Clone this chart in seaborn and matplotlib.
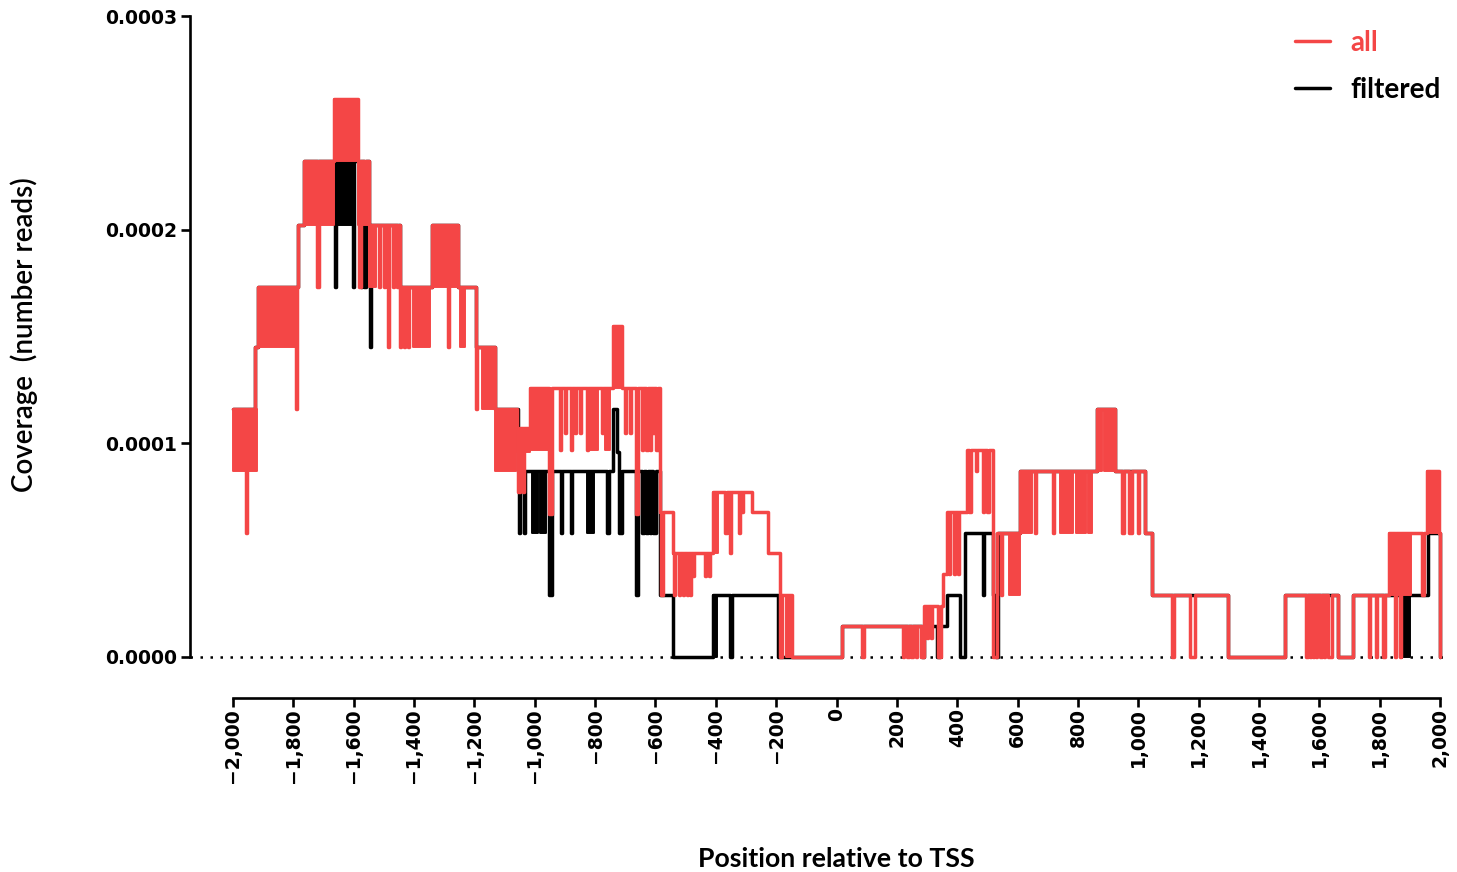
import matplotlib
matplotlib.use("Agg")
import matplotlib.pyplot as plt
import seaborn as sns
import pandas as pd
from matplotlib.ticker import FuncFormatter

# ---------------- data ----------------
# step breakpoints (position relative to TSS, coverage), drawn as steps-post
all_steps = [
    (-2000, 11.6e-5), (-1958, 5.8e-5), (-1954, 11.6e-5), (-1927, 14.5e-5), (-1917, 17.3e-5),
    (-1792, 11.6e-5), (-1788, 17.3e-5), (-1785, 20.2e-5), (-1765, 23.2e-5),
    (-1720, 17.3e-5), (-1716, 23.2e-5), (-1665, 26.1e-5), (-1586, 23.2e-5),
    (-1581, 17.3e-5), (-1577, 23.2e-5), (-1549, 20.2e-5),
    (-1516, 17.3e-5), (-1512, 20.2e-5), (-1500, 17.3e-5), (-1496, 20.2e-5),
    (-1486, 14.5e-5), (-1482, 20.2e-5), (-1470, 17.3e-5), (-1466, 20.2e-5),
    (-1455, 17.3e-5), (-1451, 20.2e-5), (-1447, 14.5e-5), (-1443, 17.3e-5),
    (-1433, 14.5e-5), (-1429, 17.3e-5), (-1420, 14.5e-5), (-1416, 17.3e-5),
    (-1340, 20.2e-5), (-1288, 14.5e-5), (-1284, 20.2e-5), (-1254, 17.3e-5),
    (-1194, 11.6e-5), (-1190, 14.5e-5), (-1131, 11.6e-5), (-1059, 10.7e-5),
    (-1054, 7.7e-5), (-1050, 10.7e-5), (-1038, 7.7e-5), (-1034, 10.7e-5),
    (-1016, 12.6e-5), (-952, 6.7e-5), (-944, 12.6e-5),
    (-917, 9.7e-5), (-913, 12.6e-5), (-900, 10.5e-5), (-896, 12.6e-5),
    (-880, 9.7e-5), (-876, 12.6e-5), (-867, 10.5e-5), (-863, 12.6e-5),
    (-850, 10.5e-5), (-846, 12.6e-5), (-827, 9.7e-5), (-823, 12.6e-5),
    (-777, 10.5e-5), (-773, 12.6e-5), (-741, 15.5e-5), (-711, 12.6e-5),
    (-700, 10.5e-5), (-696, 12.6e-5), (-684, 10.5e-5), (-680, 12.6e-5),
    (-663, 6.7e-5), (-659, 12.6e-5), (-645, 9.7e-5), (-641, 12.6e-5),
    (-630, 9.7e-5), (-626, 12.6e-5), (-618, 9.7e-5), (-614, 12.6e-5),
    (-608, 10.5e-5), (-604, 12.6e-5), (-597, 9.7e-5), (-593, 12.6e-5),
    (-585, 6.8e-5), (-580, 2.9e-5), (-576, 6.8e-5), (-542, 4.85e-5),
    (-540, 2.9e-5), (-534, 4.85e-5), (-521, 2.9e-5), (-517, 4.85e-5),
    (-510, 2.9e-5), (-506, 4.85e-5), (-497, 2.9e-5), (-493, 4.85e-5),
    (-486, 2.9e-5), (-482, 4.85e-5), (-476, 3.8e-5), (-472, 4.85e-5),
    (-436, 3.8e-5), (-432, 4.85e-5), (-424, 3.8e-5), (-420, 4.85e-5),
    (-409, 7.7e-5), (-370, 5.8e-5), (-364, 7.7e-5), (-353, 4.85e-5), (-349, 7.7e-5),
    (-323, 5.8e-5), (-319, 7.7e-5), (-313, 6.8e-5), (-309, 7.7e-5),
    (-280, 6.8e-5), (-227, 4.85e-5), (-186, 0.0), (-180, 2.9e-5), (-148, 0.0),
    (18, 1.45e-5), (86, 0.0), (90, 1.45e-5), (219, 0.0), (223, 1.45e-5),
    (235, 0.0), (239, 1.45e-5), (248, 0.0), (254, 1.45e-5), (262, 0.0), (268, 1.45e-5),
    (280, 0.0), (290, 2.4e-5), (300, 0.9e-5), (304, 2.4e-5), (313, 0.9e-5), (317, 2.4e-5),
    (336, 0.0), (346, 2.4e-5), (353, 3.9e-5), (366, 6.8e-5),
    (372, 3.9e-5), (376, 6.8e-5), (390, 3.9e-5), (394, 6.8e-5), (403, 3.9e-5), (407, 6.8e-5),
    (432, 9.7e-5), (440, 6.8e-5), (444, 9.7e-5), (462, 8.7e-5), (466, 9.7e-5),
    (484, 6.8e-5), (488, 9.7e-5), (500, 6.8e-5), (504, 9.7e-5),
    (520, 0.0), (532, 5.8e-5), (545, 2.9e-5), (549, 5.8e-5), (608, 8.7e-5),
    (656, 5.8e-5), (660, 8.7e-5), (716, 5.8e-5), (720, 8.7e-5),
    (863, 11.6e-5), (923, 8.7e-5), (947, 5.8e-5), (951, 8.7e-5),
    (970, 5.8e-5), (978, 8.7e-5), (998, 5.8e-5), (1002, 8.7e-5),
    (1022, 5.8e-5), (1046, 2.9e-5), (1113, 0.0), (1117, 2.9e-5), (1172, 0.0), (1188, 2.9e-5),
    (1297, 0.0), (1486, 2.9e-5),
    (1557, 0.0), (1561, 2.9e-5), (1569, 0.0), (1573, 2.9e-5), (1579, 0.0), (1583, 2.9e-5),
    (1589, 0.0), (1593, 2.9e-5), (1603, 0.0), (1607, 2.9e-5), (1615, 0.0), (1619, 2.9e-5),
    (1630, 0.0), (1640, 2.9e-5), (1662, 0.0), (1712, 2.9e-5),
    (1765, 0.0), (1769, 2.9e-5), (1787, 0.0), (1791, 2.9e-5), (1812, 0.0), (1816, 2.9e-5),
    (1830, 5.8e-5), (1850, 0.0), (1854, 5.8e-5), (1866, 0.0), (1870, 5.8e-5),
    (1940, 2.9e-5), (1946, 5.8e-5), (1958, 8.7e-5), (1995, 5.8e-5), (2000, 0.0),
]

# ranges where the "all" coverage flickers rapidly between two levels (start, end, low, high)
all_bands = [
    (-2000, -1920, 8.7e-5, 11.6e-5), (-1917, -1790, 14.5e-5, 17.3e-5),
    (-1765, -1665, 20.2e-5, 23.2e-5), (-1665, -1586, 23.2e-5, 26.1e-5),
    (-1586, -1549, 20.2e-5, 23.2e-5), (-1549, -1526, 17.3e-5, 20.2e-5),
    (-1403, -1347, 14.5e-5, 17.3e-5), (-1340, -1254, 17.3e-5, 20.2e-5),
    (-1247, -1230, 14.5e-5, 17.3e-5), (-1175, -1135, 11.6e-5, 14.5e-5),
    (-1131, -1062, 8.7e-5, 11.6e-5), (-1059, -1016, 9.6e-5, 10.7e-5),
    (-1016, -945, 9.7e-5, 12.6e-5), (-817, -790, 9.7e-5, 12.6e-5),
    (-767, -750, 9.7e-5, 12.6e-5), (-741, -711, 12.6e-5, 15.5e-5),
    (-409, -392, 4.85e-5, 7.7e-5), (-166, -150, 0.0, 2.9e-5),
    (572, 608, 2.9e-5, 5.8e-5), (612, 648, 5.8e-5, 8.7e-5),
    (742, 785, 5.8e-5, 8.7e-5), (792, 825, 5.8e-5, 8.7e-5), (832, 848, 5.8e-5, 8.7e-5),
    (866, 878, 8.7e-5, 11.6e-5), (886, 918, 8.7e-5, 11.6e-5),
    (1830, 1902, 2.9e-5, 5.8e-5), (1958, 1993, 5.8e-5, 8.7e-5),
]

filtered_steps = [
    (-2000, 11.6e-5), (-1927, 14.5e-5), (-1917, 17.3e-5), (-1785, 20.2e-5), (-1765, 23.2e-5),
    (-1663, 17.3e-5), (-1659, 23.2e-5), (-1603, 17.3e-5), (-1599, 23.2e-5),
    (-1577, 17.3e-5), (-1573, 23.2e-5), (-1564, 17.3e-5), (-1560, 23.2e-5),
    (-1549, 20.2e-5), (-1546, 14.5e-5), (-1541, 20.2e-5), (-1447, 17.3e-5),
    (-1340, 20.2e-5), (-1254, 17.3e-5), (-1194, 14.5e-5), (-1131, 11.6e-5),
    (-1054, 8.7e-5), (-1052, 5.8e-5), (-1048, 8.7e-5), (-1036, 5.8e-5), (-1032, 8.7e-5),
    (-952, 2.9e-5), (-944, 8.7e-5), (-913, 5.8e-5), (-909, 8.7e-5),
    (-880, 5.8e-5), (-876, 8.7e-5), (-761, 5.8e-5), (-755, 8.7e-5),
    (-741, 11.6e-5), (-728, 9.6e-5), (-720, 5.8e-5), (-711, 8.7e-5),
    (-663, 2.9e-5), (-659, 8.7e-5), (-645, 5.8e-5), (-639, 8.7e-5),
    (-630, 5.8e-5), (-626, 8.7e-5), (-618, 5.8e-5), (-614, 8.7e-5),
    (-608, 5.8e-5), (-598, 8.7e-5), (-585, 2.9e-5), (-542, 0.0), (-409, 2.9e-5),
    (-353, 0.0), (-347, 2.9e-5), (-194, 0.0), (18, 1.45e-5),
    (283, 0.0), (291, 1.45e-5), (333, 0.0), (343, 1.45e-5), (366, 2.9e-5),
    (409, 0.0), (426, 5.8e-5), (484, 2.9e-5), (490, 5.8e-5), (517, 2.9e-5),
    (527, 0.0), (535, 5.8e-5), (608, 8.7e-5), (863, 11.6e-5), (923, 8.7e-5),
    (1022, 5.8e-5), (1046, 2.9e-5), (1297, 0.0), (1486, 2.9e-5), (1662, 0.0),
    (1712, 2.9e-5), (1960, 5.8e-5), (2000, 0.0),
]

filtered_bands = [
    (-1652, -1605, 20.2e-5, 23.2e-5), (-1010, -990, 5.8e-5, 8.7e-5),
    (-983, -963, 5.8e-5, 8.7e-5), (-827, -802, 5.8e-5, 8.7e-5),
    (-409, -395, 0.0, 2.9e-5), (1866, 1900, 0.0, 2.9e-5),
]

x_ticks = list(range(-2000, 2001, 200))
y_ticks = [0.0, 0.0001, 0.0002, 0.0003]
series_names = ["all", "filtered"]

# ---------------- styling ----------------
sns.set_style("ticks")
plt.rcParams['font.family'] = ['DejaVu Sans']
plt.rcParams['text.color'] = 'black'
plt.rcParams['axes.labelcolor'] = 'black'
RED = "#F44646"
LW = 2.5

fig = plt.figure(figsize=(14.57, 8.72), dpi=100)
ax = fig.add_axes([190 / 1457, 174 / 872, 1255 / 1457, 682 / 872])

df_all = pd.DataFrame(all_steps, columns=["pos", "cov"])
df_filt = pd.DataFrame(filtered_steps, columns=["pos", "cov"])

ax.axhline(0, color="black", lw=1.8, ls=(0, (1, 3)), zorder=1)

sns.lineplot(data=df_filt, x="pos", y="cov", ax=ax, color="black", lw=LW,
             drawstyle="steps-post", estimator=None, sort=False,
             label=series_names[1], zorder=2)
for x0, x1, lo, hi in filtered_bands:
    ax.fill_between([x0, x1], [lo, lo], [hi, hi], color="black", lw=1.4, zorder=2.1)

sns.lineplot(data=df_all, x="pos", y="cov", ax=ax, color=RED, lw=LW,
             drawstyle="steps-post", estimator=None, sort=False,
             label=series_names[0], zorder=3)
for x0, x1, lo, hi in all_bands:
    ax.fill_between([x0, x1], [lo, lo], [hi, hi], color=RED, lw=1.4, zorder=3.1)

ax.set_xlim(-2142, 2016)
ax.set_ylim(-1.92e-5, 3.0e-4)

for s in ["top", "right"]:
    ax.spines[s].set_visible(False)
for s in ["left", "bottom"]:
    ax.spines[s].set_linewidth(1.9)
    ax.spines[s].set_color("black")
ax.spines["left"].set_bounds(0, 3e-4)
ax.spines["bottom"].set_bounds(-2000, 2000)

ax.set_xticks(x_ticks)
ax.set_yticks(y_ticks)
ax.xaxis.set_major_formatter(FuncFormatter(lambda v, p: f"{v:,.0f}".replace("-", "\u2212")))
ax.yaxis.set_major_formatter(FuncFormatter(lambda v, p: f"{v:.4f}"))
ax.tick_params(axis="both", direction="out", length=6.5, width=1.9, color="black",
               labelsize=13.5, labelcolor="black")
ax.tick_params(axis="y", pad=3)
ax.tick_params(axis="x", pad=1)
for lab in ax.get_xticklabels():
    lab.set_rotation(90)
    lab.set_fontweight("bold")
for lab in ax.get_yticklabels():
    lab.set_fontweight("bold")

ax.set_xlabel("Position relative to TSS", family=["Lato", "DejaVu Sans"],
              fontsize=19.2, fontweight="bold", color="black")
ax.xaxis.set_label_coords((836.5 - 190) / 1255, (698 - 847) / 682)
ax.set_ylabel("Coverage  (number reads)", family=["Lato", "DejaVu Sans"],
              fontsize=20, fontweight="semibold", color="black")
ax.yaxis.set_label_coords((38 - 190) / 1255, (698 - 335) / 682)

handles, labels = ax.get_legend_handles_labels()
order = [labels.index(n) for n in series_names]
leg = ax.legend([handles[i] for i in order], [labels[i] for i in order],
                loc="upper left", bbox_to_anchor=(1281 / 1457, 1 - 16 / 872),
                bbox_transform=fig.transFigure, frameon=False, borderpad=0,
                handlelength=1.25, handletextpad=0.75, labelspacing=0.75,
                prop={"family": ["Lato", "DejaVu Sans"], "weight": "bold", "size": 20})
leg.get_texts()[0].set_color(RED)
for line in leg.get_lines():
    line.set_linewidth(2.5)

fig.savefig("out.png", dpi=100)
